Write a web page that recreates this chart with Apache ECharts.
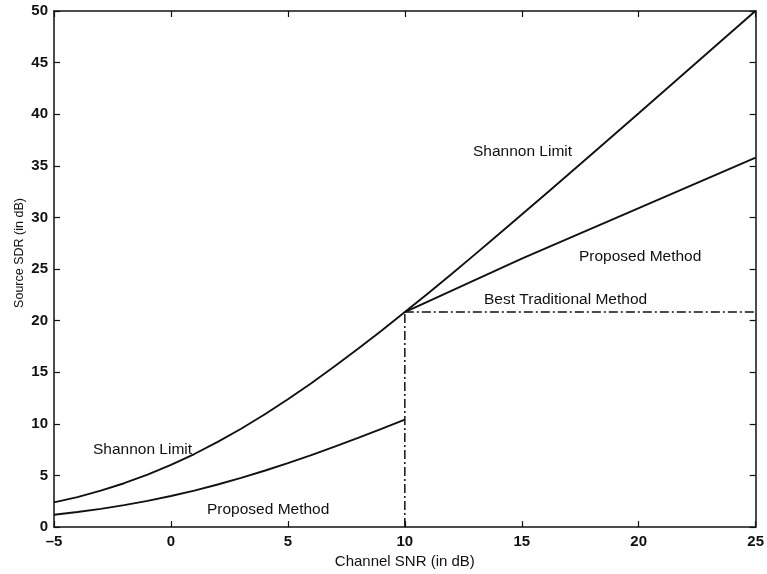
<!DOCTYPE html>
<html>
<head>
<meta charset="utf-8">
<script src="https://cdn.jsdelivr.net/npm/echarts@6/dist/echarts.min.js"></script>
<style>
html,body{margin:0;padding:0;background:#fff;}
#chart{width:767px;height:574px;}
</style>
</head>
<body>
<div id="chart"></div>
<script>
// Channel SNR (dB) sample points
const shannonX = [-5,-4,-3,-2,-1,0,1,2,3,4,5,6,7,8,9,10,11,12,13,14,16,18,20,22,25];
// Shannon limit, source SDR (dB)
const shannonY = [2.39,2.91,3.53,4.25,5.08,6.02,7.08,8.25,9.53,10.91,12.39,13.94,15.58,17.28,19.03,20.83,22.66,24.53,26.42,28.34,32.22,36.14,40.09,44.06,50.03];
// Proposed method below 10 dB
const propLowX = [-5,-4,-3,-2,-1,0,1,2,3,4,5,6,7,8,9,10];
const propLowY = [1.2,1.46,1.77,2.13,2.54,3.01,3.54,4.13,4.77,5.46,6.2,6.97,7.79,8.64,9.52,10.42];
// Proposed method above 10 dB
const propHighX = [10,15,20,25];
const propHighY = [20.83,26.0,30.9,35.8];
// Best traditional method (dash-dot)
const tradVX = [10,10];
const tradVY = [0,20.83];
const tradHX = [10,25];
const tradHY = [20.83,20.83];
// Axis ticks
const xTicks = [-5,0,5,10,15,20,25];
const yTicks = [0,5,10,15,20,25,30,35,40,45,50];

const zip = (xs, ys) => xs.map((x, i) => [x, ys[i]]);
const FONT = 'Liberation Sans, Arial, Helvetica, sans-serif';
const chart = echarts.init(document.getElementById('chart'));

const baseAxis = {
  axisLine: {show: true, onZero: false, lineStyle: {color: '#111', width: 1.5}},
  axisTick: {show: true, inside: true, length: 6, lineStyle: {color: '#111', width: 1.2}},
  splitLine: {show: false}
};

const lineSeries = (data, dash, w) => ({
  type: 'line', data: data, showSymbol: false, symbol: 'none', silent: true,
  lineStyle: {color: '#111', width: w || 1.9, type: dash || 'solid'},
  animation: false
});

const label = (text, cx, cy) => ({
  type: 'text', x: cx, y: cy,
  style: {text: text, font: '15.5px ' + FONT, fill: '#111', textAlign: 'left', textVerticalAlign: 'middle'}
});

chart.setOption({
  backgroundColor: '#fff',
  animation: false,
  grid: {left: 54, right: 11, top: 11, bottom: 41},
  xAxis: [
    Object.assign({}, baseAxis, {
      type: 'value', min: xTicks[0], max: xTicks[xTicks.length-1], interval: 5, position: 'bottom',
      name: 'Channel SNR (in dB)', nameLocation: 'middle', nameGap: 23,
      nameTextStyle: {fontFamily: FONT, fontSize: 15, color: '#111'},
      axisLabel: {fontFamily: FONT, fontSize: 15, fontWeight: 'bold', color: '#111', margin: 7,
        formatter: v => String(v).replace('-', '\u2013')}
    }),
    Object.assign({}, baseAxis, {
      type: 'value', min: xTicks[0], max: xTicks[xTicks.length-1], interval: 5, position: 'top',
      axisLabel: {show: false}
    })
  ],
  yAxis: [
    Object.assign({}, baseAxis, {
      type: 'value', min: yTicks[0], max: yTicks[yTicks.length-1], interval: 5, position: 'left',
      axisLabel: {fontFamily: FONT, fontSize: 15, fontWeight: 'bold', color: '#111', margin: 6}
    }),
    Object.assign({}, baseAxis, {
      type: 'value', min: yTicks[0], max: yTicks[yTicks.length-1], interval: 5, position: 'right',
      axisLabel: {show: false}
    })
  ],
  series: [
    lineSeries(zip(shannonX, shannonY)),
    lineSeries(zip(propLowX, propLowY)),
    lineSeries(zip(propHighX, propHighY)),
    lineSeries(zip(tradVX, tradVY), [9,3,2,3], 1.5),
    lineSeries(zip(tradHX, tradHY), [9,3,2,3], 1.5)
  ],
  graphic: [
    label('Shannon Limit', 473, 152),
    label('Proposed Method', 579, 257),
    label('Best Traditional Method', 484, 300),
    label('Shannon Limit', 93, 450),
    label('Proposed Method', 207, 510),
    {type: 'text', x: 20, y: 253, rotation: Math.PI / 2,
      style: {text: 'Source SDR (in dB)', font: '12.5px ' + FONT, fill: '#111', textAlign: 'center', textVerticalAlign: 'middle'}}
  ]
});
</script>
</body>
</html>
